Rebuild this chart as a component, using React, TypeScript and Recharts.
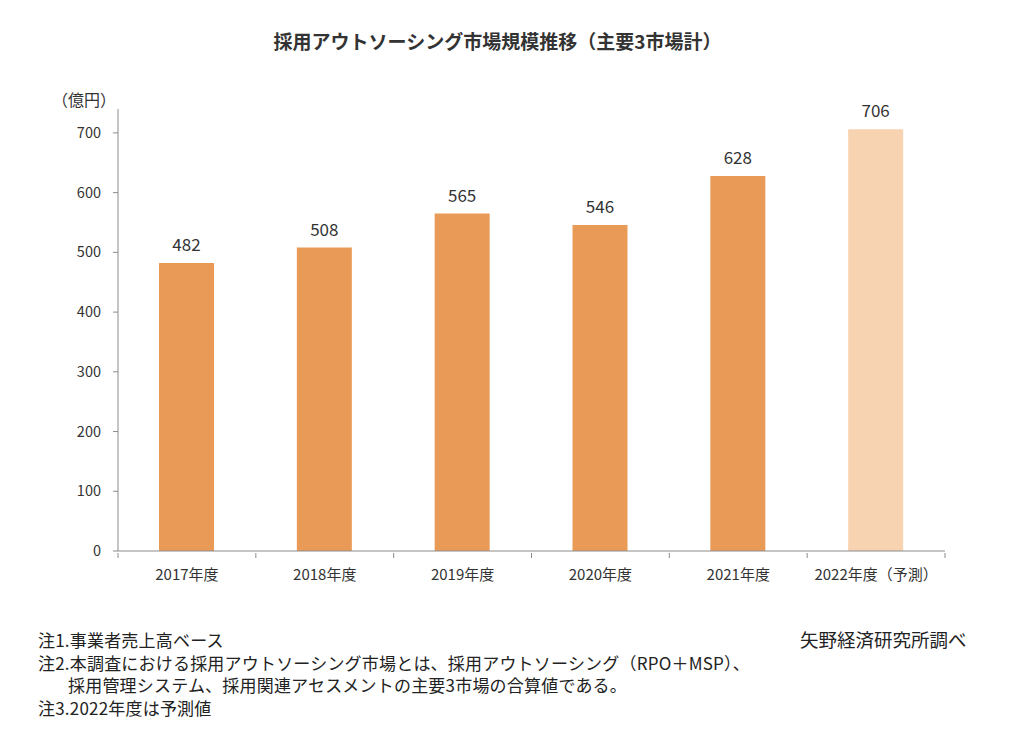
import React from "react";
import { BarChart, Bar, XAxis, YAxis, Cell, LabelList } from "recharts";

const categories = ["2017年度", "2018年度", "2019年度", "2020年度", "2021年度", "2022年度（予測）"];
const values = [482, 508, 565, 546, 628, 706];
const forecast = [false, false, false, false, false, true];
const yTicks = [0, 100, 200, 300, 400, 500, 600, 700];

const data = categories.map((c, i) => ({ name: c, value: values[i], forecast: forecast[i] }));

const FONT = '"Noto Sans CJK JP", "Noto Sans", sans-serif';
const AXIS = "#8c8c8c";
const TEXT = "#333333";

const PLOT_W = 827;

const XTick = (props: any) => {
  const { x, y, payload, index, visibleTicksCount } = props;
  const bw = PLOT_W / (visibleTicksCount || 6);
  const left = x - bw / 2;
  const right = x + bw / 2;
  return (
    <g>
      <line x1={left} y1={y} x2={left} y2={y + 5} stroke={AXIS} />
      {index === visibleTicksCount - 1 && (
        <line x1={right} y1={y} x2={right} y2={y + 5} stroke={AXIS} />
      )}
      <text x={x} y={y + 27} textAnchor="middle" fontSize={15} fill={TEXT} fontFamily={FONT}>
        {payload.value}
      </text>
    </g>
  );
};

export default function App() {
  return (
    <div style={{ position: "absolute", left: 0, top: 0, width: 1024, height: 738, background: "#fff", fontFamily: FONT }}>
      <div style={{ position: "absolute", left: 0, width: 995, top: 27, textAlign: "center", fontSize: 19, fontWeight: 700, color: TEXT }}>
        採用アウトソーシング市場規模推移（主要3市場計）
      </div>
      <div style={{ position: "absolute", left: 52, top: 87, fontSize: 16, color: TEXT }}>（億円）</div>
      <BarChart
        width={1024}
        height={738}
        data={data}
        margin={{ top: 109, right: 79, bottom: 147, left: 58 }}
      >
        <XAxis
          dataKey="name"
          axisLine={{ stroke: AXIS }}
          tickLine={false}
          tick={<XTick />}
          tickSize={0}
          interval={0}
          height={40}
        />
        <YAxis
          domain={[0, 740]}
          ticks={yTicks}
          width={60}
          axisLine={{ stroke: AXIS }}
          tickLine={{ stroke: AXIS }}
          tickSize={5}
          tickMargin={12}
          tick={{ fontSize: 14.5, fill: TEXT, fontFamily: FONT }}
          allowDataOverflow
        />
        <Bar dataKey="value" barSize={55} isAnimationActive={false}>
          {data.map((d, i) => (
            <Cell key={i} fill={d.forecast ? "#F8D3B1" : "#E99A56"} />
          ))}
          <LabelList dataKey="value" position="top" offset={12} fill={TEXT} fontSize={17} fontFamily={FONT} />
        </Bar>
      </BarChart>
      <div style={{ position: "absolute", left: 38, top: 629, fontSize: 17, letterSpacing: 0.2, color: "#222", lineHeight: "22.7px", whiteSpace: "pre" }}>
        <div>注1.事業者売上高ベース</div>
        <div>注2.本調査における採用アウトソーシング市場とは、採用アウトソーシング（RPO＋MSP）、</div>
        <div style={{ paddingLeft: 30 }}>採用管理システム、採用関連アセスメントの主要3市場の合算値である。</div>
        <div>注3.2022年度は予測値</div>
      </div>
      <div style={{ position: "absolute", left: 800, top: 628, fontSize: 18.5, color: "#222", lineHeight: "22.7px" }}>
        矢野経済研究所調べ
      </div>
    </div>
  );
}
